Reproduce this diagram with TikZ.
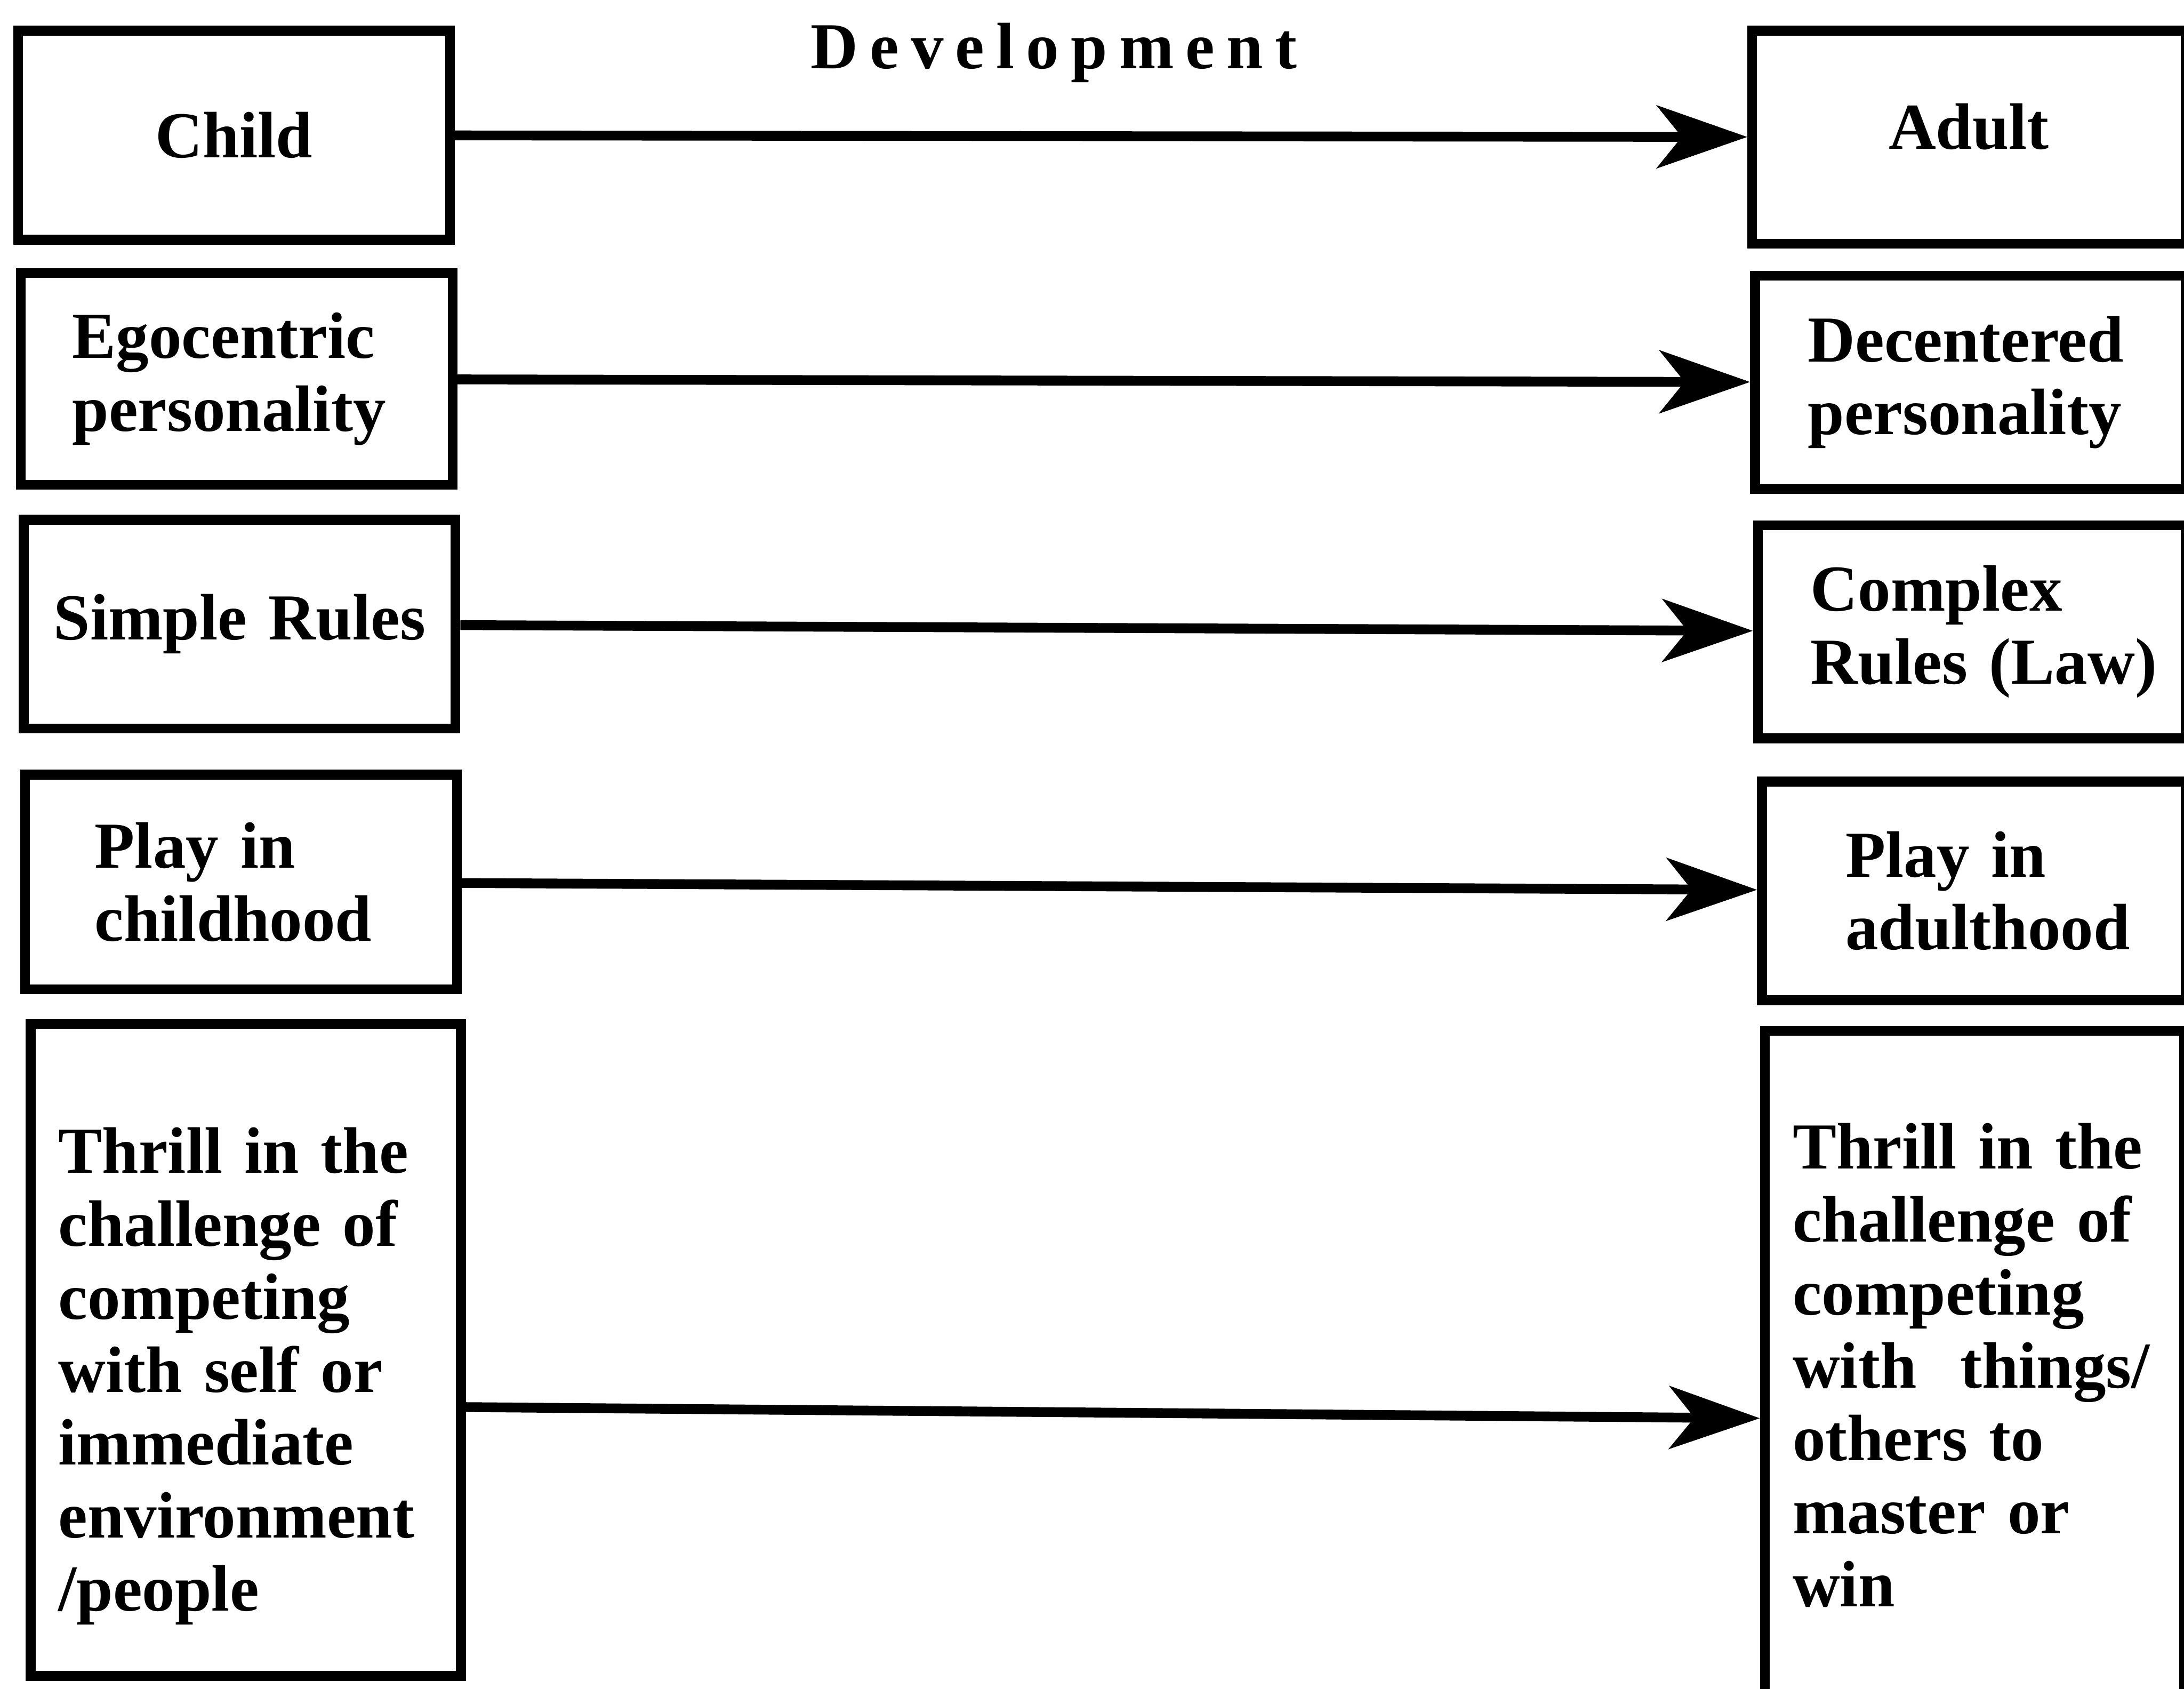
\documentclass[tikz,border=0pt]{standalone}
\usepackage{fontspec}
\setmainfont{Liberation Serif}
\usetikzlibrary{arrows.meta}
\hfuzz=60pt \hbadness=10000
\tikzset{
  blk/.style={draw,line width=2pt,inner xsep=0pt,inner ysep=0pt,align=left,
    font=\fontsize{13.4}{14.9}\selectfont\bfseries},
  devarrow/.style={-{Stealth[length=0.65cm,width=0.45cm,inset=0.18cm]},line width=2pt}
}

\begin{document}
\begin{tikzpicture}
\useasboundingbox (0,0) rectangle (15.68,-12.12);
\node[font=\fontsize{13.4}{14.9}\selectfont\bfseries] (dev) at (7.565,-0.38)
  {\addfontfeatures{LetterSpace=18}Development};
% child side
\node[blk,minimum width=3.10cm,minimum height=1.50cm,text width=3.10cm,align=center] (child) at (1.68,-0.97) {Child};
\node[blk,minimum width=3.10cm,minimum height=1.52cm,text width=2.36cm] (ego) at (1.70,-2.72) {Egocentric\\personality};
\node[blk,minimum width=3.10cm,minimum height=1.50cm,text width=3.10cm,align=center] (simple) at (1.72,-4.48) {Simple Rules};
\node[blk,minimum width=3.10cm,minimum height=1.54cm,text width=2.10cm] (playc) at (1.73,-6.33) {Play in\\childhood};
\node[blk,minimum width=3.09cm,minimum height=4.68cm,text width=2.69cm] (thrillc) at (1.765,-9.69)
  {\rule{0pt}{20pt}Thrill in the\\challenge of\\competing\\with self or\\immediate\\environment\\/people};
% adult side
\node[blk,minimum width=3.11cm,minimum height=1.53cm,text width=3.11cm,align=center] (adult) at (14.135,-0.985) {\raisebox{0.16cm}{Adult}};
\node[blk,minimum width=3.09cm,minimum height=1.53cm,text width=2.33cm] (decent) at (14.145,-2.745) {Decentered\\personality};
\node[blk,minimum width=3.07cm,minimum height=1.53cm,text width=2.31cm] (complex) at (14.155,-4.535) {Complex\\\mbox{Rules (Law)}};
\node[blk,minimum width=3.04cm,minimum height=1.57cm,text width=1.84cm] (playa) at (14.17,-6.395) {Play in\\adulthood};
\node[blk,minimum width=3.01cm,minimum height=4.80cm,text width=2.61cm] (thrillr) at (14.175,-9.80)
  {Thrill in the\\challenge of\\competing\\with\ \ things/\\others to\\master or\\win};
% development arrows
\draw[devarrow] (child) -- (adult);
\draw[devarrow] (ego) -- (decent);
\draw[devarrow] (simple) -- (complex);
\draw[devarrow] (playc) -- (playa);
\draw[devarrow] ([yshift=-0.41cm]thrillc.east) -- ([yshift=-0.38cm]thrillr.west);
\end{tikzpicture}
\end{document}
